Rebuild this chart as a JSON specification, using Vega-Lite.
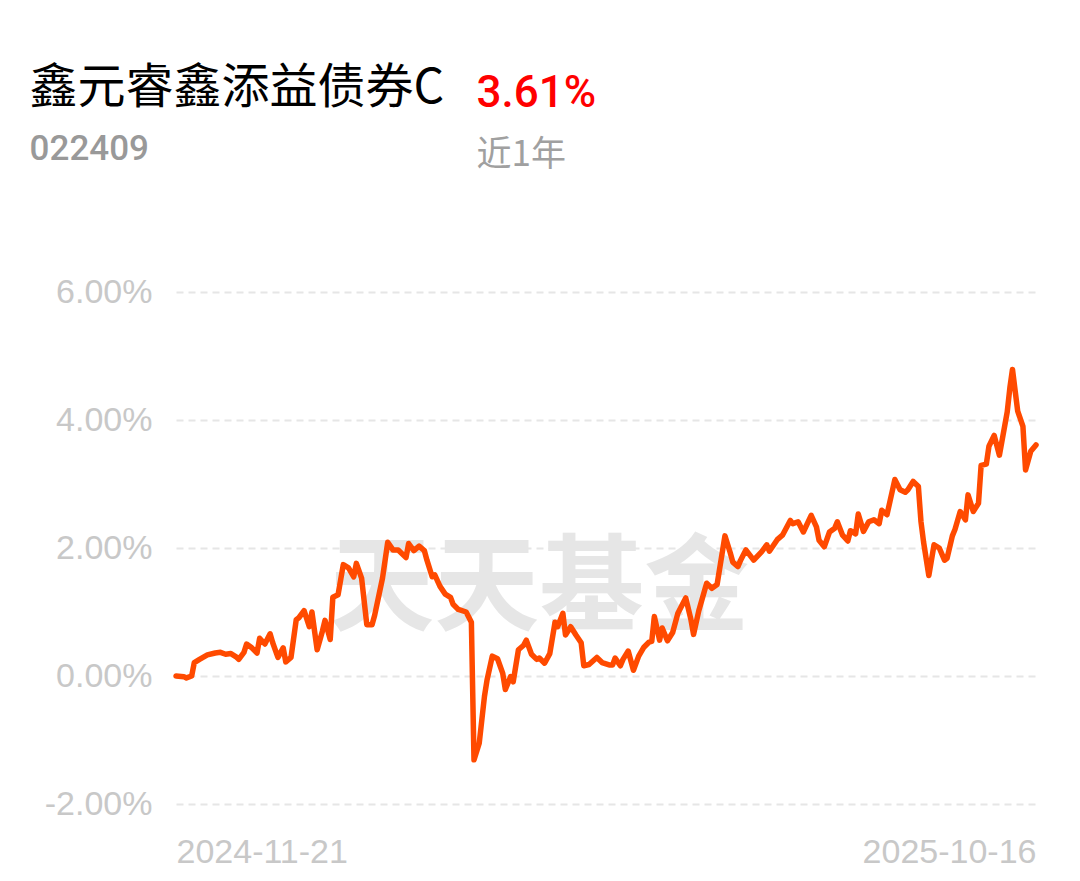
{
  "$schema": "https://vega.github.io/schema/vega-lite/v6.json",
  "autosize": "none",
  "width": 860,
  "height": 512,
  "padding": {"left": 176, "top": 292, "right": 44, "bottom": 77},
  "background": "#ffffff",
  "config": {"view": {"stroke": null}},
  "layer": [
    {
      "data": {"values": [{"label": "天天基金"}]},
      "mark": {"type": "text", "font": "Noto Sans CJK SC", "fontWeight": "bold", "fontSize": 105, "color": "#e6e6e6", "align": "center", "baseline": "middle"},
      "encoding": {
        "x": {"datum": {"year": 2025, "month": 4, "date": 9, "utc": true}, "type": "temporal"},
        "y": {"datum": 1.34, "type": "quantitative"},
        "text": {"field": "label"}
      }
    },
    {
      "data": {"values": [
        {"date": "2024-11-21", "ret": 0.00},
        {"date": "2024-11-24", "ret": -0.01},
        {"date": "2024-11-25", "ret": -0.03},
        {"date": "2024-11-27", "ret": 0.00},
        {"date": "2024-11-28", "ret": 0.21},
        {"date": "2024-11-30", "ret": 0.26},
        {"date": "2024-12-03", "ret": 0.33},
        {"date": "2024-12-06", "ret": 0.36},
        {"date": "2024-12-08", "ret": 0.37},
        {"date": "2024-12-10", "ret": 0.34},
        {"date": "2024-12-12", "ret": 0.35},
        {"date": "2024-12-14", "ret": 0.30},
        {"date": "2024-12-15", "ret": 0.26},
        {"date": "2024-12-17", "ret": 0.37},
        {"date": "2024-12-18", "ret": 0.50},
        {"date": "2024-12-20", "ret": 0.44},
        {"date": "2024-12-22", "ret": 0.36},
        {"date": "2024-12-23", "ret": 0.59},
        {"date": "2024-12-25", "ret": 0.50},
        {"date": "2024-12-27", "ret": 0.66},
        {"date": "2024-12-28", "ret": 0.52},
        {"date": "2024-12-30", "ret": 0.29},
        {"date": "2025-01-01", "ret": 0.44},
        {"date": "2025-01-02", "ret": 0.22},
        {"date": "2025-01-04", "ret": 0.29},
        {"date": "2025-01-06", "ret": 0.88},
        {"date": "2025-01-07", "ret": 0.91},
        {"date": "2025-01-09", "ret": 1.02},
        {"date": "2025-01-11", "ret": 0.77},
        {"date": "2025-01-12", "ret": 1.00},
        {"date": "2025-01-14", "ret": 0.41},
        {"date": "2025-01-16", "ret": 0.70},
        {"date": "2025-01-17", "ret": 0.87},
        {"date": "2025-01-19", "ret": 0.57},
        {"date": "2025-01-20", "ret": 1.23},
        {"date": "2025-01-22", "ret": 1.27},
        {"date": "2025-01-24", "ret": 1.74},
        {"date": "2025-01-26", "ret": 1.69},
        {"date": "2025-01-28", "ret": 1.55},
        {"date": "2025-01-29", "ret": 1.76},
        {"date": "2025-01-31", "ret": 1.53},
        {"date": "2025-02-02", "ret": 0.80},
        {"date": "2025-02-04", "ret": 0.80},
        {"date": "2025-02-05", "ret": 0.95},
        {"date": "2025-02-08", "ret": 1.53},
        {"date": "2025-02-10", "ret": 2.09},
        {"date": "2025-02-12", "ret": 1.97},
        {"date": "2025-02-14", "ret": 1.97},
        {"date": "2025-02-17", "ret": 1.85},
        {"date": "2025-02-18", "ret": 2.07},
        {"date": "2025-02-20", "ret": 1.96},
        {"date": "2025-02-22", "ret": 2.03},
        {"date": "2025-02-24", "ret": 1.96},
        {"date": "2025-02-25", "ret": 1.81},
        {"date": "2025-02-27", "ret": 1.55},
        {"date": "2025-02-28", "ret": 1.58},
        {"date": "2025-03-02", "ret": 1.40},
        {"date": "2025-03-04", "ret": 1.28},
        {"date": "2025-03-06", "ret": 1.23},
        {"date": "2025-03-07", "ret": 1.12},
        {"date": "2025-03-09", "ret": 1.04},
        {"date": "2025-03-12", "ret": 1.00},
        {"date": "2025-03-14", "ret": 0.84},
        {"date": "2025-03-15", "ret": -1.31},
        {"date": "2025-03-17", "ret": -1.05},
        {"date": "2025-03-19", "ret": -0.32},
        {"date": "2025-03-20", "ret": -0.06},
        {"date": "2025-03-22", "ret": 0.31},
        {"date": "2025-03-24", "ret": 0.27},
        {"date": "2025-03-26", "ret": 0.04},
        {"date": "2025-03-27", "ret": -0.21},
        {"date": "2025-03-29", "ret": -0.01},
        {"date": "2025-03-30", "ret": -0.09},
        {"date": "2025-04-01", "ret": 0.41},
        {"date": "2025-04-03", "ret": 0.48},
        {"date": "2025-04-04", "ret": 0.56},
        {"date": "2025-04-06", "ret": 0.34},
        {"date": "2025-04-08", "ret": 0.26},
        {"date": "2025-04-09", "ret": 0.28},
        {"date": "2025-04-11", "ret": 0.20},
        {"date": "2025-04-13", "ret": 0.35},
        {"date": "2025-04-15", "ret": 0.84},
        {"date": "2025-04-16", "ret": 0.77},
        {"date": "2025-04-18", "ret": 0.98},
        {"date": "2025-04-19", "ret": 0.64},
        {"date": "2025-04-21", "ret": 0.77},
        {"date": "2025-04-23", "ret": 0.64},
        {"date": "2025-04-25", "ret": 0.52},
        {"date": "2025-04-26", "ret": 0.16},
        {"date": "2025-04-28", "ret": 0.18},
        {"date": "2025-05-01", "ret": 0.29},
        {"date": "2025-05-03", "ret": 0.21},
        {"date": "2025-05-06", "ret": 0.17},
        {"date": "2025-05-07", "ret": 0.17},
        {"date": "2025-05-08", "ret": 0.28},
        {"date": "2025-05-10", "ret": 0.16},
        {"date": "2025-05-11", "ret": 0.26},
        {"date": "2025-05-13", "ret": 0.39},
        {"date": "2025-05-15", "ret": 0.09},
        {"date": "2025-05-17", "ret": 0.31},
        {"date": "2025-05-19", "ret": 0.45},
        {"date": "2025-05-21", "ret": 0.53},
        {"date": "2025-05-22", "ret": 0.54},
        {"date": "2025-05-23", "ret": 0.93},
        {"date": "2025-05-25", "ret": 0.56},
        {"date": "2025-05-26", "ret": 0.75},
        {"date": "2025-05-28", "ret": 0.55},
        {"date": "2025-05-30", "ret": 0.68},
        {"date": "2025-06-01", "ret": 0.98},
        {"date": "2025-06-04", "ret": 1.22},
        {"date": "2025-06-06", "ret": 0.88},
        {"date": "2025-06-07", "ret": 0.65},
        {"date": "2025-06-09", "ret": 1.02},
        {"date": "2025-06-12", "ret": 1.45},
        {"date": "2025-06-14", "ret": 1.37},
        {"date": "2025-06-16", "ret": 1.43},
        {"date": "2025-06-19", "ret": 2.19},
        {"date": "2025-06-21", "ret": 1.93},
        {"date": "2025-06-22", "ret": 1.78},
        {"date": "2025-06-24", "ret": 1.71},
        {"date": "2025-06-25", "ret": 1.81},
        {"date": "2025-06-27", "ret": 1.97},
        {"date": "2025-06-30", "ret": 1.81},
        {"date": "2025-07-03", "ret": 1.94},
        {"date": "2025-07-05", "ret": 2.05},
        {"date": "2025-07-06", "ret": 1.95},
        {"date": "2025-07-09", "ret": 2.13},
        {"date": "2025-07-11", "ret": 2.20},
        {"date": "2025-07-14", "ret": 2.43},
        {"date": "2025-07-15", "ret": 2.38},
        {"date": "2025-07-17", "ret": 2.41},
        {"date": "2025-07-19", "ret": 2.25},
        {"date": "2025-07-22", "ret": 2.51},
        {"date": "2025-07-24", "ret": 2.33},
        {"date": "2025-07-25", "ret": 2.12},
        {"date": "2025-07-27", "ret": 2.02},
        {"date": "2025-07-29", "ret": 2.25},
        {"date": "2025-07-31", "ret": 2.31},
        {"date": "2025-08-01", "ret": 2.41},
        {"date": "2025-08-03", "ret": 2.20},
        {"date": "2025-08-05", "ret": 2.11},
        {"date": "2025-08-06", "ret": 2.27},
        {"date": "2025-08-08", "ret": 2.22},
        {"date": "2025-08-09", "ret": 2.53},
        {"date": "2025-08-11", "ret": 2.26},
        {"date": "2025-08-13", "ret": 2.41},
        {"date": "2025-08-15", "ret": 2.44},
        {"date": "2025-08-17", "ret": 2.38},
        {"date": "2025-08-18", "ret": 2.59},
        {"date": "2025-08-20", "ret": 2.52},
        {"date": "2025-08-23", "ret": 3.07},
        {"date": "2025-08-25", "ret": 2.91},
        {"date": "2025-08-27", "ret": 2.87},
        {"date": "2025-08-28", "ret": 2.91},
        {"date": "2025-08-30", "ret": 3.04},
        {"date": "2025-09-01", "ret": 2.96},
        {"date": "2025-09-02", "ret": 2.41},
        {"date": "2025-09-03", "ret": 2.09},
        {"date": "2025-09-05", "ret": 1.57},
        {"date": "2025-09-07", "ret": 2.05},
        {"date": "2025-09-09", "ret": 2.00},
        {"date": "2025-09-11", "ret": 1.81},
        {"date": "2025-09-12", "ret": 1.84},
        {"date": "2025-09-14", "ret": 2.19},
        {"date": "2025-09-15", "ret": 2.29},
        {"date": "2025-09-17", "ret": 2.57},
        {"date": "2025-09-19", "ret": 2.44},
        {"date": "2025-09-20", "ret": 2.83},
        {"date": "2025-09-22", "ret": 2.57},
        {"date": "2025-09-24", "ret": 2.70},
        {"date": "2025-09-25", "ret": 3.29},
        {"date": "2025-09-27", "ret": 3.31},
        {"date": "2025-09-28", "ret": 3.59},
        {"date": "2025-09-30", "ret": 3.76},
        {"date": "2025-10-02", "ret": 3.45},
        {"date": "2025-10-05", "ret": 4.13},
        {"date": "2025-10-06", "ret": 4.50},
        {"date": "2025-10-07", "ret": 4.79},
        {"date": "2025-10-09", "ret": 4.14},
        {"date": "2025-10-11", "ret": 3.90},
        {"date": "2025-10-12", "ret": 3.22},
        {"date": "2025-10-14", "ret": 3.51},
        {"date": "2025-10-16", "ret": 3.61}
      ]},
      "mark": {"type": "line", "color": "#ff4a00", "strokeWidth": 5.5, "strokeJoin": "round", "strokeCap": "round"},
      "encoding": {
        "x": {
          "field": "date",
          "type": "temporal",
          "scale": {"type": "utc", "domain": [{"year": 2024, "month": 11, "date": 21, "utc": true}, {"year": 2025, "month": 10, "date": 16, "utc": true}]},
          "axis": {
            "title": null,
            "values": [{"year": 2024, "month": 11, "date": 21, "utc": true}, {"year": 2025, "month": 10, "date": 16, "utc": true}],
            "format": "%Y-%m-%d",
            "labelFlush": true,
            "labelFont": "Liberation Sans",
            "labelFontSize": 34,
            "labelColor": "#c8c8c8",
            "labelPadding": 31,
            "domain": false,
            "ticks": false,
            "grid": false
          }
        },
        "y": {
          "field": "ret",
          "type": "quantitative",
          "scale": {"domain": [-2, 6], "nice": false, "zero": false},
          "axis": {
            "title": null,
            "values": [-2, 0, 2, 4, 6],
            "labelExpr": "(datum.value < 0 ? '-' : '') + format(abs(datum.value), '.2f') + '%'",
            "labelFont": "Liberation Sans",
            "labelFontSize": 34,
            "labelColor": "#c8c8c8",
            "labelPadding": 24,
            "domain": false,
            "ticks": false,
            "grid": true,
            "gridColor": "#e6e6e6",
            "gridWidth": 2,
            "gridDash": [7, 5]
          }
        }
      }
    },
    {
      "data": {"values": [{"label": "鑫元睿鑫添益债券C"}]},
      "mark": {"type": "text", "font": "Noto Sans CJK SC", "fontSize": 48, "color": "#000000", "align": "left", "baseline": "alphabetic"},
      "encoding": {
        "x": {"datum": {"year": 2024, "month": 9, "date": 26, "utc": true}, "type": "temporal"},
        "y": {"datum": 8.96, "type": "quantitative"},
        "text": {"field": "label"}
      }
    },
    {
      "data": {"values": [{"label": "022409"}]},
      "mark": {"type": "text", "font": "Roboto", "fontWeight": 500, "fontSize": 35, "color": "#999999", "align": "left", "baseline": "alphabetic"},
      "encoding": {
        "x": {"datum": {"year": 2024, "month": 9, "date": 26, "utc": true}, "type": "temporal"},
        "y": {"datum": 8.06, "type": "quantitative"},
        "text": {"field": "label"}
      }
    },
    {
      "data": {"values": [{"label": "3.61%"}]},
      "mark": {"type": "text", "font": "Roboto", "fontWeight": 500, "fontSize": 44, "color": "#ff0000", "align": "left", "baseline": "alphabetic"},
      "encoding": {
        "x": {"datum": {"year": 2025, "month": 3, "date": 16, "utc": true}, "type": "temporal"},
        "y": {"datum": 8.89, "type": "quantitative"},
        "text": {"field": "label"}
      }
    },
    {
      "data": {"values": [{"label": "近1年"}]},
      "mark": {"type": "text", "font": "Noto Sans CJK SC", "fontSize": 35, "color": "#a0a0a0", "align": "left", "baseline": "alphabetic"},
      "encoding": {
        "x": {"datum": {"year": 2025, "month": 3, "date": 16, "utc": true}, "type": "temporal"},
        "y": {"datum": 7.97, "type": "quantitative"},
        "text": {"field": "label"}
      }
    }
  ]
}
